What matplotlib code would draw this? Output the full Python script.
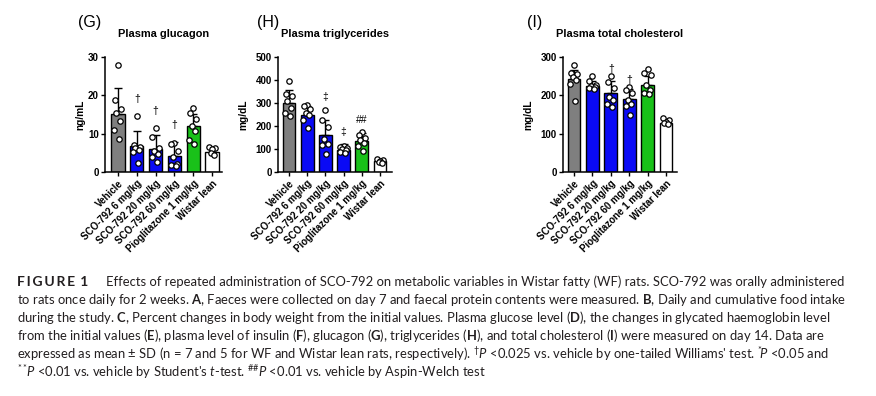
import numpy as np
import matplotlib.pyplot as plt

groups = ['Vehicle', 'SCO-792 6 mg/kg', 'SCO-792 20 mg/kg', 'SCO-792 60 mg/kg',
          'Pioglitazone 1 mg/kg', 'Wistar lean']
bar_colors = ['#7f7f7f', '#0a0af5', '#0a0af5', '#0a0af5', '#19c119', 'white']

# (G) glucagon, ng/mL
glucagon_mean = [15.2, 6.8, 6.1, 4.1, 11.9, 5.2]
glucagon_sd = [6.8, 3.8, 3.5, 3.6, 3.3, 1.3]
glucagon_pts = [
    [28.0, 18.8, 16.5, 15.3, 13.3, 11.0, 8.5],
    [14.5, 7.0, 6.6, 6.2, 5.8, 5.2, 2.3],
    [11.4, 9.2, 6.2, 5.5, 4.8, 4.0, 2.5],
    [7.6, 7.2, 5.5, 3.9, 2.2, 1.7, 1.5],
    [16.6, 15.5, 13.8, 12.0, 10.8, 8.3, 7.4],
    [6.5, 6.2, 5.9, 5.0, 4.5],
]
glucagon_sig = ['', '†', '†', '†', '', '']

# (H) triglycerides, mg/dL
tg_mean = [301, 246, 159, 97, 135, 46]
tg_sd = [54, 40, 66, 23, 36, 9]
tg_pts = [
    [394, 340, 330, 310, 280, 256, 244],
    [293, 287, 272, 258, 247, 225, 192],
    [270, 225, 195, 145, 122, 116, 80],
    [114, 110, 104, 98, 94, 88, 83],
    [172, 163, 148, 137, 126, 113, 92],
    [57, 53, 48, 43, 38],
]
tg_sig = ['', '', '‡', '‡', '##', '']

# (I) total cholesterol, mg/dL
chol_mean = [243, 224, 207, 190, 228, 129]
chol_sd = [24, 13, 30, 27, 22, 10]
chol_pts = [
    [280, 258, 255, 248, 241, 230, 185],
    [250, 238, 226, 224, 222, 219, 217],
    [251, 236, 220, 195, 187, 177, 170],
    [222, 214, 205, 188, 178, 172, 150],
    [268, 258, 254, 228, 215, 207, 203],
    [142, 136, 130, 128, 125],
]
chol_sig = ['', '', '†', '†', '', '']

caption_lines = [
    "Effects of repeated administration of SCO-792 on metabolic variables in Wistar fatty (WF) rats. SCO-792 was orally administered",
    "to rats once daily for 2 weeks. $\\mathbf{A}$, Faeces were collected on day 7 and faecal protein contents were measured. $\\mathbf{B}$, Daily and cumulative food intake",
    "during the study. $\\mathbf{C}$, Percent changes in body weight from the initial values. Plasma glucose level ($\\mathbf{D}$), the changes in glycated haemoglobin level",
    "from the initial values ($\\mathbf{E}$), plasma level of insulin ($\\mathbf{F}$), glucagon ($\\mathbf{G}$), triglycerides ($\\mathbf{H}$), and total cholesterol ($\\mathbf{I}$) were measured on day 14. Data are",
    "expressed as mean ± SD (n = 7 and 5 for WF and Wistar lean rats, respectively). ${}^{\\dagger}P$ <0.025 vs. vehicle by one-tailed Williams' test. ${}^{*}\\!P$ <0.05 and",
    "${}^{**}\\!P$ <0.01 vs. vehicle by Student's $t$-test. ${}^{\\#\\#}P$ <0.01 vs. vehicle by Aspin-Welch test",
]

plt.rcParams['font.family'] = ['Liberation Sans', 'DejaVu Sans']
plt.rcParams['mathtext.fontset'] = 'custom'
plt.rcParams['mathtext.rm'] = 'Lato'
plt.rcParams['mathtext.it'] = 'Lato:italic'
plt.rcParams['mathtext.bf'] = 'Lato:bold'

W, H = 876, 396
fig = plt.figure(figsize=(W / 100, H / 100), dpi=100)

# jitter pattern for the dots (fixed, not random)
offs7 = [0.0, -0.17, 0.17, -0.08, 0.12, -0.2, 0.06]
offs5 = [-0.15, 0.15, 0.0, -0.08, 0.1]


def panel(left_px, right_px, letter, letter_x, title, ylabel, ylab_x,
          means, sds, pts, sig, ymax, step, xl, sig_k):
    ax = fig.add_axes([left_px / W, 1 - 172 / H, (right_px - left_px) / W, 115 / H])
    x = np.arange(len(groups))
    ax.bar(x, means, width=0.7, color=bar_colors, edgecolor='black', linewidth=1.0, zorder=2)
    ax.errorbar(x, means, yerr=[np.zeros(len(sds)), sds], fmt='none', ecolor='black',
                elinewidth=1.0, capsize=3, capthick=1.0, zorder=3)
    for i, p in enumerate(pts):
        o = offs7 if len(p) == 7 else offs5
        ax.scatter(i + np.array(o[:len(p)]), p, s=15, facecolor='white', edgecolor='black',
                   linewidth=0.9, zorder=4)
        if sig[i]:
            top = max(max(p), means[i] + sds[i])
            ax.text(i, top + sig_k * ymax, sig[i], ha='center', va='center', fontsize=7.5)
    ax.set_xlim(*xl)
    ax.set_ylim(0, ymax)
    ax.set_yticks(np.arange(0, ymax + 1, step))
    ax.set_xticks(x)
    ax.set_xticklabels(groups, rotation=45, ha='right', va='top', rotation_mode='anchor',
                       fontsize=7.0, fontweight='bold')
    for lab in ax.get_yticklabels():
        lab.set_fontsize(7.0)
        lab.set_fontweight('bold')
    ax.tick_params(length=3, width=1.0, pad=1.5)
    for s in ['top', 'right']:
        ax.spines[s].set_visible(False)
    for s in ['left', 'bottom']:
        ax.spines[s].set_linewidth(1.1)
    ax.set_ylabel(ylabel, fontsize=7.3, fontweight='bold')
    ax.yaxis.set_label_coords(ylab_x, 0.5)
    ax.text(0.5, 1.2, title, transform=ax.transAxes, ha='center', va='center',
            fontsize=7.9, fontweight='bold')
    fig.text(letter_x / W, 1 - 23 / H, letter, ha='left', va='center', fontsize=11.5)
    return ax


panel(105, 222, '(G)', 78, 'Plasma glucagon', 'ng/mL', -0.17,
      glucagon_mean, glucagon_sd, glucagon_pts, glucagon_sig, 30, 10, (-0.69, 5.53), 0.15)
panel(278, 392, '(H)', 257, 'Plasma triglycerides', 'mg/dL', -0.26,
      tg_mean, tg_sd, tg_pts, tg_sig, 500, 100, (-0.6, 5.66), 0.11)
panel(563, 677, '(I)', 527, 'Plasma total cholesterol', 'mg/dL', -0.26,
      chol_mean, chol_sd, chol_pts, chol_sig, 300, 100, (-0.6, 5.6), 0.06)

# caption
cap_color = '#231f20'
fig.text(17 / W, 1 - 282 / H, '\u2009'.join('FIGURE') + '\u2009 1', ha='left', va='center',
         fontsize=10, fontweight='bold', family=['Lato', 'DejaVu Sans'], color=cap_color)
line_y = [282, 300, 318, 336, 354, 372]
for k, line in enumerate(caption_lines):
    x0 = 106 if k == 0 else 17
    fig.text(x0 / W, 1 - line_y[k] / H, line, ha='left', va='center', fontsize=9.4,
             family=['Lato', 'DejaVu Sans'], color=cap_color)

fig.savefig('out.png', dpi=100)
